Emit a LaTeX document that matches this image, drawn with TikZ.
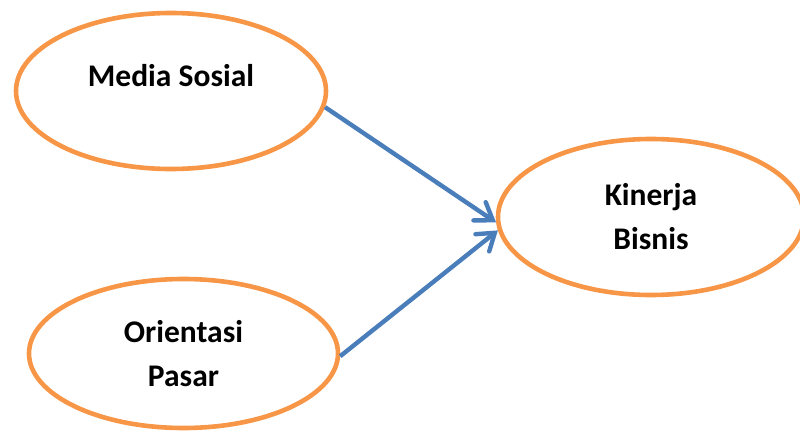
\documentclass[tikz,border=0pt]{standalone}
\usepackage{fontspec}
\setmainfont{Carlito}
\usetikzlibrary{shapes.geometric,arrows.meta}
\definecolor{varorange}{HTML}{F79646}
\definecolor{pathblue}{HTML}{4A7EBB}
\tikzset{
  var/.style={ellipse,draw=varorange,line width=4.6pt,inner sep=0pt,
    font=\fontsize{31.5}{44}\selectfont\bfseries,align=center},
  path/.style={draw=pathblue,line width=4.4pt,
    -{Straight Barb[length=16pt,width=22pt,line cap=round]}}
}
\begin{document}
\begin{tikzpicture}[x=1pt,y=1pt]
      \useasboundingbox (0,0) rectangle (800,432);
      \draw
        (171,341) node[var,minimum width=310pt,minimum height=156pt,
          text height=20pt,text depth=28pt] (media){Media Sosial}
        (183.5,78.5) node[var,minimum width=309pt,minimum height=149pt] (orientasi){Orientasi\\Pasar}
        (651,215) node[var,minimum width=306pt,minimum height=156pt] (kinerja){Kinerja\\Bisnis};
      \begin{scope}[path]
        \draw (media.-6) to (kinerja.182);
        \draw (orientasi.-1) to (kinerja.185);
      \end{scope}
    \end{tikzpicture}
\end{document}
